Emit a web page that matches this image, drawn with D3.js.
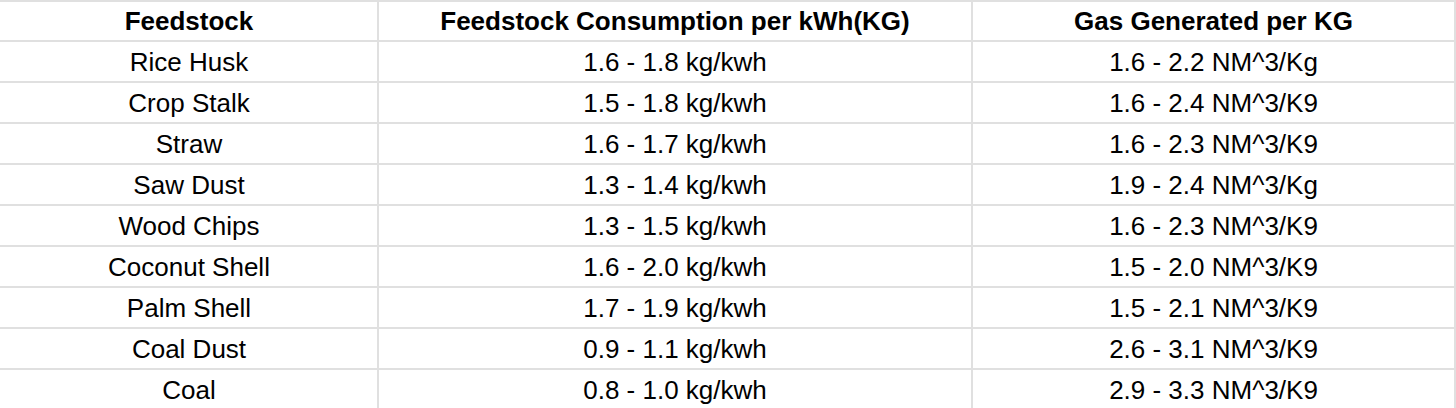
<!DOCTYPE html><html><head><meta charset="utf-8">
<script src="https://cdn.jsdelivr.net/npm/d3@7"></script>
<style>body{margin:0;background:#fff}</style></head><body><svg id="c" width="1456" height="408"></svg>
<script>
const headers=["Feedstock","Feedstock Consumption per kWh(KG)","Gas Generated per KG"];
const feedstocks=["Rice Husk","Crop Stalk","Straw","Saw Dust","Wood Chips","Coconut Shell","Palm Shell","Coal Dust","Coal"];
const consumption=["1.6 - 1.8 kg/kwh","1.5 - 1.8 kg/kwh","1.6 - 1.7 kg/kwh","1.3 - 1.4 kg/kwh","1.3 - 1.5 kg/kwh","1.6 - 2.0 kg/kwh","1.7 - 1.9 kg/kwh","0.9 - 1.1 kg/kwh","0.8 - 1.0 kg/kwh"];
const gas=["1.6 - 2.2 NM^3/Kg","1.6 - 2.4 NM^3/K9","1.6 - 2.3 NM^3/K9","1.9 - 2.4 NM^3/Kg","1.6 - 2.3 NM^3/K9","1.5 - 2.0 NM^3/K9","1.5 - 2.1 NM^3/K9","2.6 - 3.1 NM^3/K9","2.9 - 3.3 NM^3/K9"];
const svg=d3.select("#c");
const colEdges=[0,378,972,1455];
const y=d3.scaleLinear().domain([0,10]).range([0,410]);
const g=svg.append("g");
for(let i=0;i<=10;i++) g.append("line").attr("x1",0).attr("x2",1456).attr("y1",Math.max(1,y(i))).attr("y2",Math.max(1,y(i))).attr("stroke","#e0e0e0").attr("stroke-width",2);
colEdges.slice(1).forEach(x=>g.append("line").attr("x1",x).attr("x2",x).attr("y1",0).attr("y2",408).attr("stroke","#e0e0e0").attr("stroke-width",2));
const rows=[headers,...feedstocks.map((f,i)=>[f,consumption[i],gas[i]])];
rows.forEach((r,ri)=>r.forEach((t,ci)=>{
 g.append("text").attr("x",(colEdges[ci]+colEdges[ci+1])/2).attr("y",y(ri+0.5)+9)
  .attr("text-anchor","middle").attr("font-family","Liberation Sans, Arial, sans-serif")
  .attr("font-size",26).attr("font-weight",ri===0?"bold":"normal").attr("fill","#000").text(t);
}));
</script></body></html>
